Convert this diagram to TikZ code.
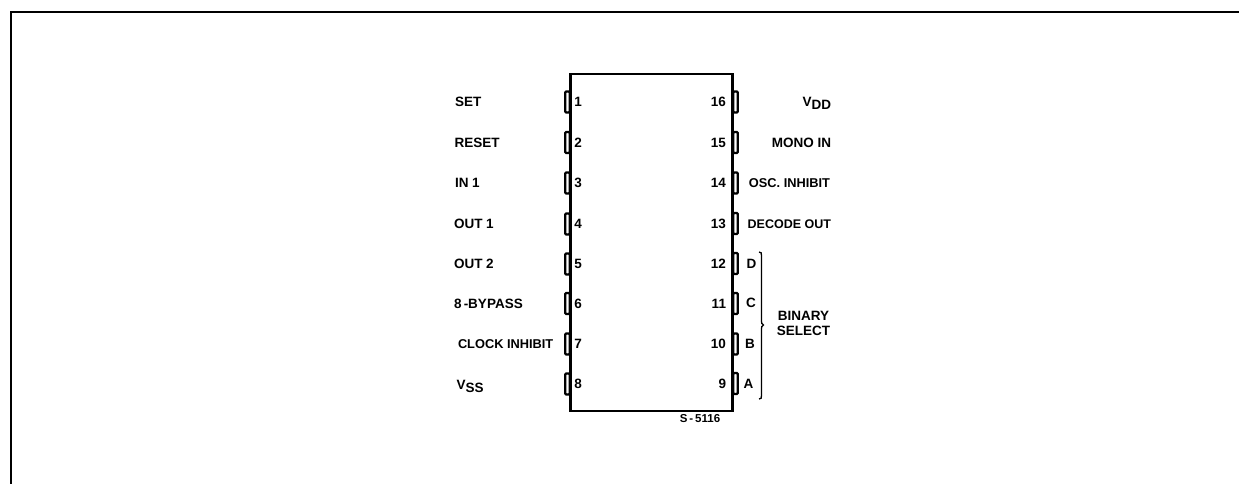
\documentclass[tikz,border=0pt]{standalone}
\usepackage{fontspec}
\setmainfont{Liberation Sans}[Scale=1]
\tikzset{
  every node/.style={inner sep=0pt,outer sep=0pt,font=\bfseries\fontsize{13.5}{15}\selectfont,text=black},
  chip/.style={draw=black,line width=2.8pt,minimum width=162pt,minimum height=337pt},
  frameline/.style={line width=2.4pt,line cap=rect},
  pinbox/.style={draw=black,line width=2.2pt,rounded corners=1pt,minimum width=4.5pt,minimum height=21pt},
  lbl/.style={anchor=west},
  num/.style={font=\bfseries\fontsize{13.5}{15}\selectfont},
  tight/.style={font=\bfseries\fontsize{12.8}{15}\selectfont},
  brace/.style={draw=black,line width=1.3pt}
}
\begin{document}
\begin{tikzpicture}[x=1pt,y=-1pt]
\useasboundingbox (0,0) rectangle (1239,483);
\coordinate (fbl) at (11,483);
\coordinate (ftl) at (11,12);
\coordinate (ftr) at (1239,12);
\draw[frameline] (fbl) -- (ftl) -- (ftr);
\node[chip] (ic) at (651.5,242.5) {};
% left pins
\foreach \n/\y in {1/102,2/142.5,3/183,4/224,5/264,6/303.5,7/344,8/384}{
  \node[pinbox] (p\n) at (567.5,\y) {};
  \node[num] (n\n) at (578,\y) {\n};
}
% right pins
\foreach \n/\y in {16/102,15/142.5,14/183,13/223.5,12/263.5,11/303.5,10/344,9/383.5}{
  \node[pinbox] (p\n) at (735.5,\y) {};
  \node[num,anchor=east] (n\n) at (726,\y) {\n};
}
% left labels
\node[lbl] (l1) at (455,102) {SET};
\node[lbl] (l2) at (454.5,142.5) {RESET};
\node[lbl] (l3) at (455,183) {IN 1};
\node[lbl] (l4) at (454,224) {OUT 1};
\node[lbl] (l5) at (454,264) {OUT 2};
\node[lbl] (l6) at (454,303.5) {8\,-BYPASS};
\node[lbl,tight] (l7) at (458,344) {CLOCK INHIBIT};
\node[lbl] (l8) at (456.5,386) {V\raisebox{-3pt}{SS}};
% right labels
\node[anchor=east] (r16) at (831,103.5) {V\raisebox{-3pt}{DD}};
\node[anchor=east] (r15) at (831,143) {MONO IN};
\node[anchor=east,tight] (r14) at (830,183) {OSC. INHIBIT};
\node[anchor=east,font=\bfseries\fontsize{12.5}{15}\selectfont] (r13) at (831,224) {DECODE OUT};
\node (d) at (751.5,263.5) {D};
\node (c) at (751,303) {C};
\node (b) at (750,343.5) {B};
\node (a) at (748.5,383.5) {A};
% brace
\coordinate (bt) at (759,252);
\coordinate (bb) at (759,399);
\coordinate (bm) at (763.5,325);
\draw[brace] (bt) .. controls (761.5,252) and (761.5,253) .. (761.5,256) -- (761.5,321) .. controls (761.5,323.5) .. (bm) .. controls (761.5,326.5) .. (761.5,329) -- (761.5,395) .. controls (761.5,398) and (761.5,399) .. (bb);
\node[align=center,font=\bfseries\fontsize{13.5}{15}\selectfont] (bs) at (803.5,323) {BINARY\\SELECT};
\node[font=\bfseries\fontsize{11.5}{13}\selectfont] (code) at (700,419) {S\,-\,5116};
\end{tikzpicture}
\end{document}
